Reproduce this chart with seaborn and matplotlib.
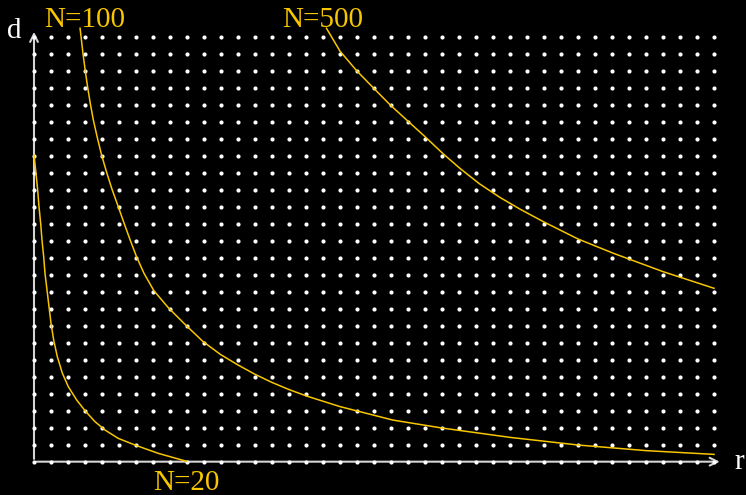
import numpy as np
import pandas as pd
import seaborn as sns
import matplotlib.pyplot as plt

r_n20 = [0, 0.118, 0.216, 0.294, 0.392, 0.47, 0.569, 0.647, 0.765, 0.882, 1.0,
         1.157, 1.37, 1.67, 2.02, 2.51, 3.0, 3.59, 4.18, 4.96, 5.94, 7.31, 8.98]
d_n20 = [18.04, 16.96, 15.98, 15.0, 14.02, 13.04, 12.06, 11.08, 10.1, 9.12, 8.14,
         7.16, 6.18, 5.2, 4.41, 3.63, 3.0, 2.35, 1.86, 1.37, 0.98, 0.49, 0.02]

r_n100 = [2.71, 2.88, 3.01, 3.15, 3.31, 3.49, 3.72, 3.97, 4.26, 4.57, 4.92, 5.28,
          5.65, 6.03, 6.47, 7.05, 7.9, 8.9, 9.95, 10.98, 11.98, 12.98, 13.98,
          14.98, 16.04, 18.0, 21.1, 24.0, 28.0, 32.0, 36.0, 40.0]
d_n100 = [25.5, 24.02, 23.04, 22.06, 21.08, 20.1, 19.08, 18.06, 17.06, 16.08, 15.1,
          14.08, 13.06, 12.06, 11.08, 10.06, 9.06, 8.06, 7.06, 6.3, 5.7, 5.15, 4.67,
          4.25, 3.86, 3.24, 2.45, 1.98, 1.43, 0.98, 0.65, 0.43]

r_n500 = [17.2, 18.0, 18.98, 20.0, 20.94, 21.92, 23.0, 24.08, 25.06, 26.2, 27.4,
          28.6, 29.96, 32.0, 34.08, 37.0, 40.0]
d_n500 = [25.5, 24.15, 23.0, 21.95, 21.0, 20.1, 19.12, 18.1, 17.25, 16.35, 15.55,
          14.85, 14.12, 13.1, 12.26, 11.18, 10.2]

n_cols = 40
n_rows = 25

gelb = "#f7c600"
grau = "#d4d4d4"

kurven = pd.concat([
    pd.DataFrame({"r": r_n20, "d": d_n20, "N": "20"}),
    pd.DataFrame({"r": r_n100, "d": d_n100, "N": "100"}),
    pd.DataFrame({"r": r_n500, "d": d_n500, "N": "500"}),
])

gx, gy = np.meshgrid(np.arange(n_cols + 1), np.arange(n_rows + 1))
gitter = pd.DataFrame({"r": gx.ravel(), "d": gy.ravel()})

fig = plt.figure(figsize=(7.46, 4.95), dpi=100, facecolor="black")
ax = fig.add_axes([0, 0, 1, 1])
ax.set_facecolor("black")

# achsen mit pfeilen
ax.annotate("", xy=(40.5, 0), xytext=(0, 0),
            arrowprops=dict(arrowstyle="->", color=grau, lw=1.5, mutation_scale=14))
ax.annotate("", xy=(0, 25.45), xytext=(0, 0),
            arrowprops=dict(arrowstyle="->", color=grau, lw=1.5, mutation_scale=14))

sns.scatterplot(data=gitter, x="r", y="d", ax=ax, color="white", s=9,
                linewidth=0, zorder=3, legend=False)
sns.lineplot(data=kurven, x="r", y="d", units="N", estimator=None, sort=False,
             ax=ax, color=gelb, lw=1.1, zorder=4, legend=False)

ax.set_xlim(-2.0, 41.88)
ax.set_ylim(-1.96, 27.16)
ax.axis("off")

font = "Liberation Serif"
def txt(x, y, s, c):
    fig.text(x / 746, 1 - y / 495, s, color=c, fontsize=21, family=font,
             ha="left", va="baseline")

txt(44, 27, "N=100", gelb)
txt(282, 27, "N=500", gelb)
txt(153, 490, "N=20", gelb)
txt(7, 38, "d", "white")
txt(734, 469, "r", "white")

fig.savefig("out.png", dpi=100, facecolor="black")
